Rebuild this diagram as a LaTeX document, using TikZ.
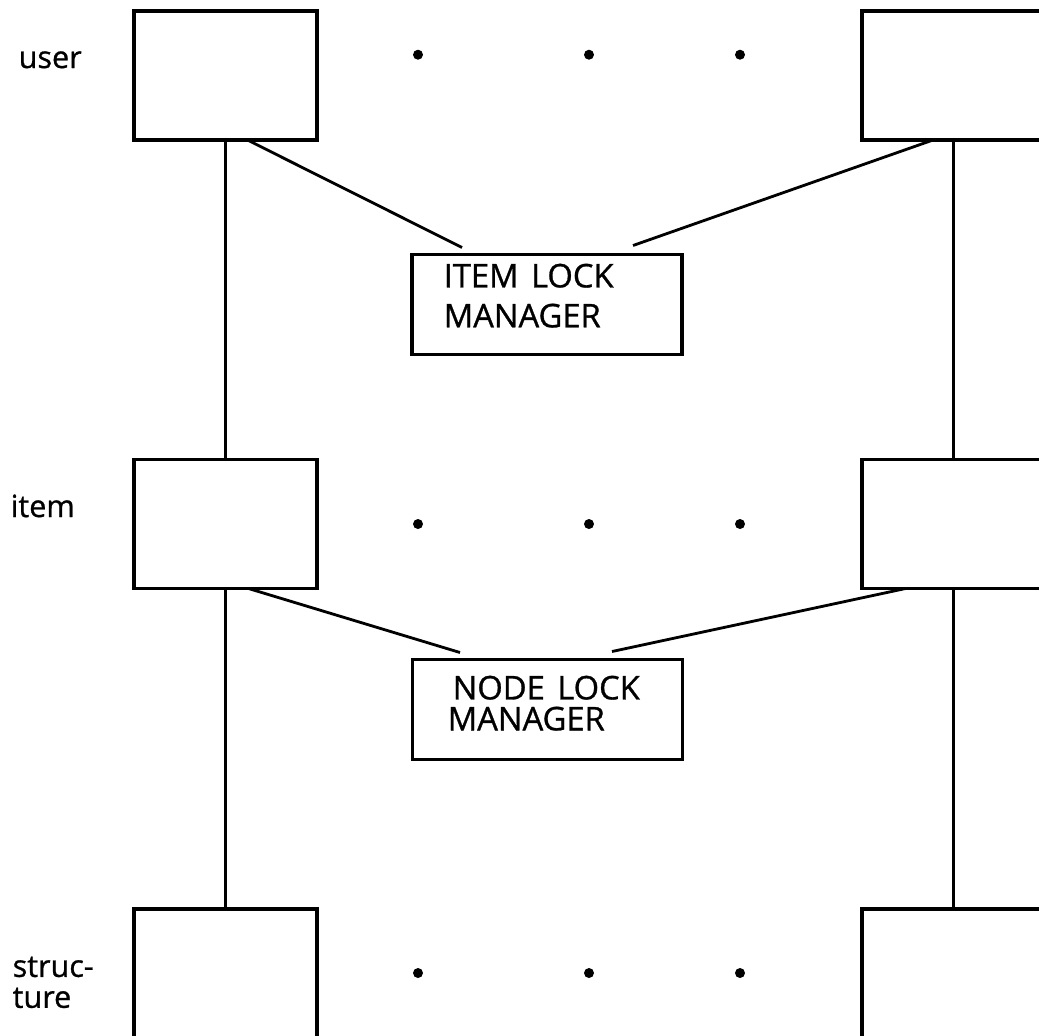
\documentclass[tikz,border=0pt]{standalone}
\usepackage{fontspec}
\setmainfont{Open Sans}[FakeBold=0.9]

\begin{document}
\begin{tikzpicture}[
    levelbox/.style={draw, line width=0.9pt, minimum width=1.83cm, minimum height=1.29cm, inner sep=0pt, outer sep=0pt},
    lockbox/.style={draw, line width=0.9pt, minimum width=2.70cm, minimum height=1.00cm, inner sep=0pt, outer sep=0pt},
    txt/.style={font=\fontsize{8.7}{8.8}\selectfont, inner sep=0pt, align=left},
    locktxt/.style={font=\fontsize{9.3}{8.8}\selectfont, inner sep=0pt, align=left},
    link/.style={line width=0.8pt}
]
    \def\leftX{2.255}
    \def\rightX{9.535}

    % Page frame
    \useasboundingbox (0,0) rectangle (10.39,-10.35);
    \clip (0,0) rectangle (10.39,-10.35);

    % Level boxes
    \node[levelbox] (user1) at (\leftX,-0.755) {};
    \node[levelbox] (user2) at (\rightX,-0.755) {};
    \node[levelbox] (item1) at (\leftX,-5.24) {};
    \node[levelbox] (item2) at (\rightX,-5.24) {};
    \node[levelbox] (struct1) at (\leftX,-9.735) {};
    \node[levelbox] (struct2) at (\rightX,-9.735) {};

    % Level names
    \node[txt, anchor=base west] (userlabel) at (0.18,-0.68) {user};
    \node[txt, anchor=base west] (itemlabel) at (0.10,-5.17) {item};
    \node[txt, anchor=north west] (structlabel) at (0.12,-9.56) {struc-\\ture};

    % Dots between the columns
    \foreach \y in {0.547,5.24,9.73}
        \foreach \x in {4.18,5.89,7.40}
            \fill (\x,-\y) circle (0.05);

    % Lock managers
    \node[lockbox] (itemlm) at (5.47,-3.045) {};
    \node[locktxt, anchor=north west] (itemlmtext) at (4.43,-2.63) {ITEM\hspace{0.04cm} LOCK\\[0.09cm]MANAGER};
    \node[lockbox] (nodelm) at (5.475,-7.095) {};
    \node[locktxt, anchor=north west] (nodelmtext) at (4.47,-6.75) {\hspace*{0.05cm}NODE\hspace{0.04cm} LOCK\\MANAGER};

    % Vertical links
    \draw[link] (user1) -- (item1);
    \draw[link] (item1) -- (struct1);
    \draw[link] (user2) -- (item2);
    \draw[link] (item2) -- (struct2);

    % Links to the lock managers
    \coordinate (itemlmL) at ([xshift=-0.85cm, yshift=0.07cm]itemlm.north);
    \coordinate (itemlmR) at ([xshift=0.86cm, yshift=0.09cm]itemlm.north);
    \draw[link] ([xshift=0.22cm]user1.south) -- (itemlmL);
    \draw[link] ([xshift=-0.205cm]user2.south) -- (itemlmR);

    \coordinate (nodelmL) at ([xshift=-0.875cm, yshift=0.07cm]nodelm.north);
    \coordinate (nodelmR) at ([xshift=0.645cm, yshift=0.08cm]nodelm.north);
    \draw[link] ([xshift=0.23cm]item1.south) -- (nodelmL);
    \draw[link] ([xshift=-0.48cm]item2.south) -- (nodelmR);

\end{tikzpicture}
\end{document}
